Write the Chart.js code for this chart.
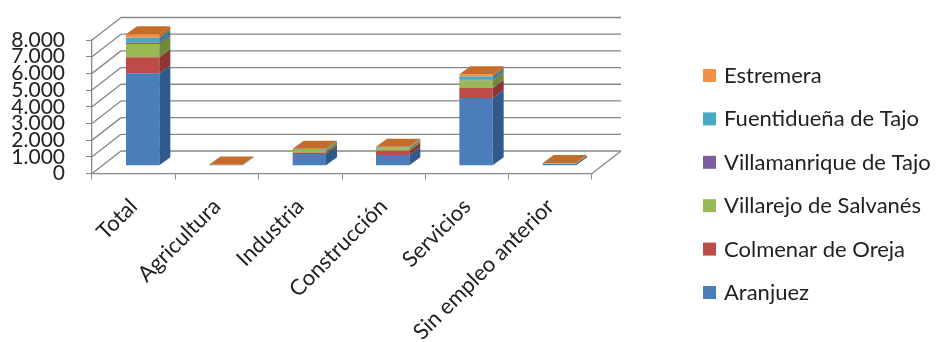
<!DOCTYPE html>
<html>
<head>
<meta charset="utf-8">
<script src="https://cdn.jsdelivr.net/npm/chart.js@4.4.1/dist/chart.umd.min.js"></script>
<style>
  html, body { margin: 0; padding: 0; background: #ffffff; }
  #c { display: block; }
</style>
</head>
<body>
<canvas id="c" width="937" height="342"></canvas>
<script>
// Paro registrado por sector y municipio
const categories = ['Total', 'Agricultura', 'Industria', 'Construcción', 'Servicios', 'Sin empleo anterior'];

const aranjuez            = [5540, 40, 700, 640, 4050, 110];
const colmenarDeOreja     = [960, 10, 90, 250, 600, 10];
const villarejoDeSalvanes = [800, 10, 150, 160, 460, 20];
const villamanriqueDeTajo = [80, 5, 15, 15, 40, 5];
const fuentiduenaDeTajo   = [290, 5, 40, 40, 200, 5];
const estremera           = [200, 5, 25, 35, 130, 5];

const seriesNames = ['Aranjuez', 'Colmenar de Oreja', 'Villarejo de Salvanés',
                     'Villamanrique de Tajo', 'Fuentidueña de Tajo', 'Estremera'];
const seriesValues = [aranjuez, colmenarDeOreja, villarejoDeSalvanes,
                      villamanriqueDeTajo, fuentiduenaDeTajo, estremera];

const yMax = 8000;
const yStep = 1000;

// colours: front faces, darker side faces, lit top face
const frontColors = ['#4A7EBB', '#BE4B48', '#98B954', '#7D5FA0', '#46AAC5', '#F29143'];
const sideColors  = ['#2F5A8B', '#8C3532', '#6E8A3A', '#5A4476', '#2E7F97', '#B5682B'];
const topColor = '#C46C2A';

const FONT = 'Lato, "Open Sans", sans-serif';
const TEXT = '#222222';
const GRID = '#878787';

// oblique depth of the walls and of the bars
const WALL = { dx: 29, dy: -22.5 };
const BAR_FRONT = { dx: 9, dy: -7.8 };
const BAR_DEPTH = { dx: 11, dy: -8 };

function line(ctx, x1, y1, x2, y2) {
  ctx.beginPath();
  ctx.moveTo(x1, y1);
  ctx.lineTo(x2, y2);
  ctx.stroke();
}

function poly(ctx, pts, fill) {
  ctx.beginPath();
  ctx.moveTo(pts[0][0], pts[0][1]);
  for (let i = 1; i < pts.length; i++) ctx.lineTo(pts[i][0], pts[i][1]);
  ctx.closePath();
  ctx.fillStyle = fill;
  ctx.fill();
}

const box3d = {
  id: 'box3d',
  beforeDatasetsDraw(chart) {
    const { ctx, chartArea: a, scales: { y } } = chart;
    ctx.save();
    ctx.strokeStyle = GRID;
    ctx.lineWidth = 1.3;
    // left wall and back wall gridlines
    y.ticks.forEach(t => {
      const py = y.getPixelForValue(t.value);
      line(ctx, a.left, py, a.left + WALL.dx, py + WALL.dy);
      line(ctx, a.left + WALL.dx, py + WALL.dy, a.right + WALL.dx, py + WALL.dy);
    });
    // right edge of the floor
    const y0 = y.getPixelForValue(0);
    line(ctx, a.right, y0, a.right + WALL.dx, y0 + WALL.dy);
    ctx.restore();
    // bars stand in the middle of the floor depth
    ctx.save();
    ctx.translate(BAR_FRONT.dx, BAR_FRONT.dy);
  },
  afterDatasetsDraw(chart) {
    const { ctx } = chart;
    const n = chart.data.datasets.length;
    for (let i = 0; i < n; i++) {
      const meta = chart.getDatasetMeta(i);
      meta.data.forEach(bar => {
        const { x, y, base, width } = bar.getProps(['x', 'y', 'base', 'width'], true);
        const R = x + width / 2;
        const L = x - width / 2;
        const top = Math.min(y, base), bot = Math.max(y, base);
        poly(ctx, [[R, top], [R + BAR_DEPTH.dx, top + BAR_DEPTH.dy],
                   [R + BAR_DEPTH.dx, bot + BAR_DEPTH.dy], [R, bot]], sideColors[i]);
        if (i === n - 1) {
          poly(ctx, [[L, top], [R, top], [R + BAR_DEPTH.dx, top + BAR_DEPTH.dy],
                     [L + BAR_DEPTH.dx, top + BAR_DEPTH.dy]], topColor);
        }
      });
    }
    ctx.restore();
  }
};

const sideLegend = {
  id: 'sideLegend',
  afterDraw(chart) {
    const { ctx } = chart;
    const ds = chart.data.datasets;
    ctx.save();
    ctx.font = '22px ' + FONT;
    ctx.textBaseline = 'middle';
    ctx.textAlign = 'left';
    for (let k = 0; k < ds.length; k++) {
      const d = ds[ds.length - 1 - k];
      const cy = 75 + k * 43.4;
      ctx.fillStyle = d.backgroundColor;
      ctx.fillRect(703, cy - 6, 13, 13);
      ctx.fillStyle = TEXT;
      ctx.fillText(d.label, 724, cy + 1);
    }
    ctx.restore();
  }
};

const datasets = seriesNames.map((name, i) => ({
  label: name,
  data: seriesValues[i],
  backgroundColor: frontColors[i],
  borderWidth: 0,
  barPercentage: 0.4,
  categoryPercentage: 1.0,
  clip: false
}));

new Chart(document.getElementById('c'), {
  type: 'bar',
  data: { labels: categories, datasets },
  plugins: [box3d, sideLegend],
  options: {
    responsive: false,
    devicePixelRatio: 1,
    animation: false,
    events: [],
    layout: { padding: { top: 40, right: 345, bottom: 0, left: 0 } },
    plugins: {
      legend: { display: false },
      tooltip: { enabled: false }
    },
    scales: {
      x: {
        stacked: true,
        offset: true,
        grid: { display: true, drawOnChartArea: false, drawTicks: true, tickLength: 6, color: GRID, offset: true },
        border: { display: true, color: GRID, width: 1.3 },
        ticks: {
          autoSkip: false, minRotation: 45, maxRotation: 45, padding: 14,
          color: TEXT, font: { family: FONT, size: 22 }
        },
        afterFit(s) { s.height = 168.5; }
      },
      y: {
        stacked: true,
        min: 0,
        max: yMax,
        grid: { display: true, drawOnChartArea: false, drawTicks: true, tickLength: 6, color: GRID },
        border: { display: true, color: GRID, width: 1.3 },
        ticks: {
          autoSkip: false, stepSize: yStep, padding: 21, color: TEXT,
          font: { family: FONT, size: 21 },
          callback: v => v.toLocaleString('de-DE')
        },
        afterFit(s) { s.width = 92; }
      }
    }
  }
});
</script>
</body>
</html>
